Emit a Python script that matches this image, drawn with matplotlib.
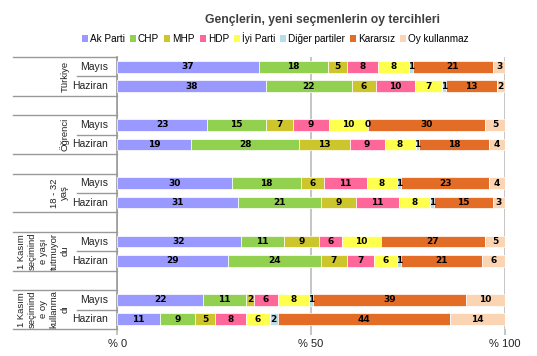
import numpy as np
import matplotlib
matplotlib.use("Agg")
import matplotlib.pyplot as plt
from matplotlib.patches import Patch
from matplotlib.transforms import blended_transform_factory

plt.rcParams["font.family"] = ["Liberation Sans", "DejaVu Sans"]

# data (percent)
parties = ["Ak Parti", "CHP", "MHP", "HDP", "İyi Parti", "Diğer partiler", "Kararsız", "Oy kullanmaz"]
colors = ["#9999FF", "#92D050", "#CCC52C", "#FF6699", "#FFFF4D", "#B7DEE8", "#E36C26", "#FBD4B4"]

groups = ["Türkiye", "Öğrenci", "18 - 32\nyaş",
          "1 Kasım\nseçimind\ne yaşı\ntutmuyor\ndu",
          "1 Kasım\nseçimind\ne oy\nkullanma\ndı"]
months = ["Mayıs", "Haziran"]

turkiye_mayis = [37, 18, 5, 8, 8, 1, 21, 3]
turkiye_haziran = [38, 22, 6, 10, 7, 1, 13, 2]
ogrenci_mayis = [23, 15, 7, 9, 10, 0, 30, 5]
ogrenci_haziran = [19, 28, 13, 9, 8, 1, 18, 4]
genc_mayis = [30, 18, 6, 11, 8, 1, 23, 4]
genc_haziran = [31, 21, 9, 11, 8, 1, 15, 3]
yas_mayis = [32, 11, 9, 6, 10, np.nan, 27, 5]
yas_haziran = [29, 24, 7, 7, 6, 1, 21, 6]
oy_mayis = [22, 11, 2, 6, 8, 1, 39, 10]
oy_haziran = [11, 9, 5, 8, 6, 2, 44, 14]

rows = [turkiye_mayis, turkiye_haziran, ogrenci_mayis, ogrenci_haziran,
        genc_mayis, genc_haziran, yas_mayis, yas_haziran, oy_mayis, oy_haziran]

fig = plt.figure(figsize=(5.37, 3.56), dpi=100)
ax = fig.add_axes([0.218, 0.076, 0.722, 0.764])

# each group takes 2 slots, one empty slot between groups
positions = []
for g in range(len(groups)):
    for r in range(2):
        positions.append(g * 3 + r + 0.5)

for i, vals in enumerate(rows):
    vals = np.array(vals, dtype=float)
    shown = ~np.isnan(vals)
    v = np.nan_to_num(vals)
    widths = v / v.sum() * 100  # 100% stacked
    left = 0.0
    for k in range(len(parties)):
        ax.barh(positions[i], widths[k], left=left, height=0.6,
                color=colors[k], edgecolor="white", linewidth=0.5, zorder=3)
        if shown[k]:
            ax.text(left + widths[k] / 2, positions[i], f"{int(v[k])}",
                    ha="center", va="center", fontsize=6.5, fontweight="bold",
                    color="black", zorder=4, family="DejaVu Sans")
        left += widths[k]

ax.set_xlim(0, 100)
ax.set_ylim(len(groups) * 3 - 1, 0)
ax.set_xticks([0, 50, 100])
ax.set_xticklabels(["% 0", "% 50", "% 100"], fontsize=8, color="#222222")
ax.tick_params(axis="x", length=4, color="#BBBBBB", width=1.2, pad=3)
ax.set_yticks([])
ax.xaxis.grid(True, color="#BBBBBB", linewidth=1.2, zorder=0)
for s in ["top", "right", "bottom"]:
    ax.spines[s].set_visible(False)
ax.spines["left"].set_color("#999999")
ax.spines["left"].set_linewidth(1.2)

# multi-level category table on the left
trans = blended_transform_factory(ax.transAxes, ax.transData)
line_kw = dict(color="#999999", linewidth=1.0, transform=trans, clip_on=False)
for g in range(len(groups)):
    top = g * 3
    ax.plot([-0.268, 0], [top, top], **line_kw)
    ax.plot([-0.268, 0], [top + 2, top + 2], **line_kw)
    ax.plot([-0.103, 0], [top + 1, top + 1], **line_kw)
    ax.text(-0.123, top + 1, groups[g], rotation=90, ha="right", va="center",
            multialignment="center", fontsize=6.8, linespacing=1.25,
            color="#222222", transform=trans)
    for r in range(2):
        ax.text(-0.023, top + r + 0.5, months[r], ha="right", va="center",
                fontsize=7.5, color="#222222", transform=trans)

fig.text(0.6, 0.945, "Gençlerin, yeni seçmenlerin oy tercihleri", ha="center",
         va="center", fontsize=8.7, fontweight="bold", color="#404040")

handles = [Patch(facecolor=c, edgecolor="none") for c in colors]
fig.legend(handles, parties, loc="center", bbox_to_anchor=(0.513, 0.893),
           ncol=len(parties), frameon=False, fontsize=7.2,
           handlelength=0.6, handleheight=0.6, handletextpad=0.2,
           columnspacing=0.5, borderpad=0)

fig.savefig("out.png", dpi=100)
